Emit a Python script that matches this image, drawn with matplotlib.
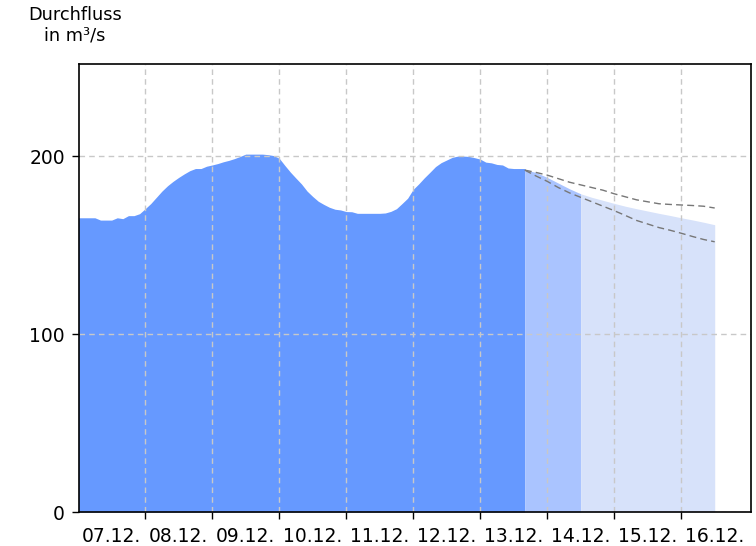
import datetime
import numpy as np
import matplotlib
matplotlib.use('Agg')
import matplotlib.pyplot as plt
import matplotlib.dates as mdates

plt.rcParams['font.family'] = ['DejaVu Sans']

start = datetime.datetime(2023, 12, 7)

# Messwerte, alle 2 Stunden ab 07.12. 00:00 (m³/s)
obs_hours = list(range(0, 160, 2))
obs_values = [
    165.5, 165.5, 165.5, 165.5, 164.2, 164.2, 164.2, 165.5, 165.0, 166.7,
    166.7, 167.8, 170.6, 173.5, 177.0, 180.5, 183.5, 186.0, 188.2, 190.2,
    192.0, 193.2, 193.2, 194.5, 195.2, 196.0, 197.0, 197.8, 198.8, 200.0,
    201.3, 201.3, 201.3, 201.3, 201.0, 200.5, 199.0, 195.0, 191.2, 187.8,
    184.5, 180.5, 177.5, 174.8, 173.0, 171.4, 170.3, 169.9, 169.0, 168.9,
    168.0, 168.0, 168.0, 168.0, 168.0, 168.2, 169.1, 170.6, 173.5, 176.5,
    181.5, 184.6, 188.0, 191.1, 194.3, 196.5, 198.0, 199.5, 200.2, 200.2,
    200.0, 199.3, 198.5, 196.8, 196.4, 195.5, 195.2, 193.5, 193.2, 193.2,
]

# Vorhersage, alle 4 Stunden ab 13.12. 16:00
fc_hours = list(range(160, 229, 4))
fc_median = [192.5, 191.0, 188.2, 185.0, 181.8, 179.0, 177.0, 175.3, 173.6,
             172.0, 170.6, 169.3, 168.0, 166.8, 165.5, 164.3, 163.0, 161.6]
fc_upper = [192.3, 191.0, 189.5, 187.5, 185.5, 184.0, 182.5, 181.0, 179.0,
            177.3, 175.6, 174.5, 173.4, 173.0, 172.7, 172.4, 172.0, 171.0]
fc_lower = [192.3, 189.0, 186.0, 182.5, 179.5, 177.0, 174.5, 172.0, 169.5,
            166.8, 164.0, 162.0, 160.0, 158.5, 156.8, 155.0, 153.3, 152.0]
fc_split = 180  # Grenze zwischen den beiden Vorhersagebereichen (14.12. 12:00)

day_labels = ['07.12.', '08.12.', '09.12.', '10.12.', '11.12.',
              '12.12.', '13.12.', '14.12.', '15.12.', '16.12.']

obs_t = [start + datetime.timedelta(hours=h) for h in obs_hours + [fc_hours[0]]]
obs_v = obs_values + [obs_values[-1]]
fc_t = [start + datetime.timedelta(hours=h) for h in fc_hours]
fc_m = np.array(fc_median)
near = np.array(fc_hours) <= fc_split
far = np.array(fc_hours) >= fc_split

fig = plt.figure(figsize=(7.56, 5.46), dpi=100)
ax = fig.add_axes([79 / 756, 1 - 512 / 546, 672 / 756, 448 / 546])

ax.fill_between(obs_t, 0, obs_v, color='#6699ff', lw=0, zorder=1)
ax.fill_between(fc_t, 0, fc_m, where=near, color='#aac4ff', lw=0, zorder=1)
ax.fill_between(fc_t, 0, fc_m, where=far, color='#d7e2fa', lw=0, zorder=1)
ax.plot(fc_t, fc_upper, color='#777777', lw=1, ls=(0, (5, 3)), zorder=3)
ax.plot(fc_t, fc_lower, color='#777777', lw=1, ls=(0, (5, 3)), zorder=3)

ax.set_xlim(start + datetime.timedelta(hours=0.3), start + datetime.timedelta(hours=241))
ax.set_ylim(0, 252)

# Achsen formatieren
ax.set_yticks([0, 100, 200])
midnights = [start + datetime.timedelta(days=d) for d in range(1, 10)]
noons = [start + datetime.timedelta(days=d, hours=12) for d in range(10)]
ax.set_xticks(midnights)
ax.set_xticklabels([])
ax.set_xticks(noons, minor=True)
ax.set_xticklabels(day_labels, minor=True)
ax.tick_params(axis='x', which='major', length=5, width=1, direction='out')
ax.tick_params(axis='x', which='minor', length=0, pad=10.5, labelsize=13.5)
ax.tick_params(axis='y', length=5, width=1, pad=5, labelsize=13.5)

ax.grid(True, which='major', color='#c8c8c8', lw=1, ls=(0, (4, 3)), zorder=2)
ax.set_axisbelow(False)
for s in ax.spines.values():
    s.set_linewidth(1.2)
    s.set_zorder(4)

fig.text(75 / 756, 1 - 6 / 546, 'Durchfluss\nin m³/s', ha='center', va='top',
         fontsize=12.75, linespacing=1.2)

fig.savefig('out.png', dpi=100)
